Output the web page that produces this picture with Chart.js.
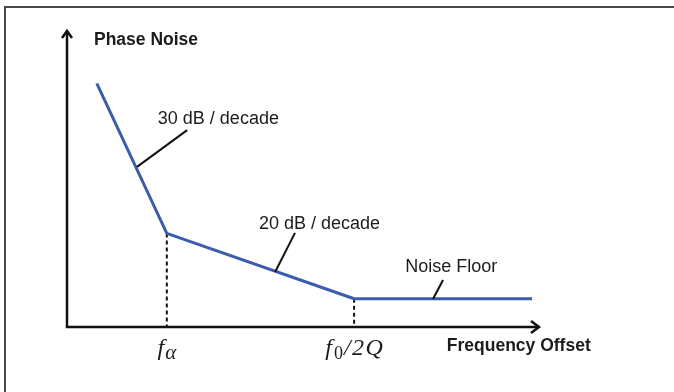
<!DOCTYPE html>
<html><head><meta charset="utf-8">
<script src="https://cdn.jsdelivr.net/npm/chart.js@4"></script>
<style>html,body{margin:0;padding:0;background:#fff;}canvas{display:block}</style>
</head><body>
<canvas id="c" width="674" height="392"></canvas>
<script>
// ---- data (schematic, log-frequency units) ----
const freqOffset  = [0.63, 2.11, 6.07, 9.83];
const phaseNoise  = [8.2, 3.15, 0.95, 0.95];
const tickValues  = [2.11, 6.07];
const tickLabels  = [['f', 'α', ''], ['f', '0', '/2Q']];
const slopeLabels = ['30 dB / decade', '20 dB / decade', 'Noise Floor'];
const axisTitles  = ['Phase Noise', 'Frequency Offset'];
// leader line anchors on the curve (x,y) and label attachment (x,y)
const leaderFrom  = [[1.48, 5.39], [4.40, 1.85], [7.74, 0.95]];
const leaderTo    = [[2.54, 6.63], [4.82, 3.17], [7.95, 1.58]];
const labelPos    = [[1.92, 6.84], [4.06, 3.30], [7.15, 1.85]];
const titlePos    = [[0.57, 9.48], [8.03, -0.81]];

const curve = freqOffset.map((x, i) => ({x, y: phaseNoise[i]}));
const dropLines = tickValues.map(v => {
  const i = freqOffset.indexOf(v);
  return [{x: v, y: phaseNoise[i]}, {x: v, y: 0}];
});

const frame = {
  id: 'frame',
  beforeDraw(chart) {
    const ctx = chart.ctx;
    ctx.save();
    ctx.fillStyle = '#fff';
    ctx.fillRect(0, 0, chart.width, chart.height);
    ctx.strokeStyle = '#4a4a4a';
    ctx.lineWidth = 2;
    ctx.beginPath();
    ctx.moveTo(5, chart.height);
    ctx.lineTo(5, 7);
    ctx.lineTo(chart.width, 7);
    ctx.stroke();
    ctx.restore();
  }
};

const axesArrows = {
  id: 'axesArrows',
  afterDatasetsDraw(chart) {
    const ctx = chart.ctx, a = chart.chartArea;
    ctx.save();
    ctx.strokeStyle = '#111';
    ctx.lineWidth = 2.5;
    ctx.lineCap = 'butt';
    ctx.beginPath();
    ctx.moveTo(a.left, a.top + 1);
    ctx.lineTo(a.left, a.bottom);
    ctx.lineTo(a.right - 1, a.bottom);
    ctx.stroke();
    ctx.lineJoin = 'miter';
    ctx.beginPath();
    ctx.moveTo(a.left - 5, a.top + 8);
    ctx.lineTo(a.left, a.top + 1);
    ctx.lineTo(a.left + 5, a.top + 8);
    ctx.moveTo(a.right - 9, a.bottom - 6);
    ctx.lineTo(a.right - 1, a.bottom);
    ctx.lineTo(a.right - 9, a.bottom + 6);
    ctx.stroke();
    ctx.restore();
  }
};

const annotate = {
  id: 'annotate',
  afterDraw(chart) {
    const ctx = chart.ctx, xs = chart.scales.x, ys = chart.scales.y;
    const px = v => xs.getPixelForValue(v), py = v => ys.getPixelForValue(v);
    ctx.save();
    // leader lines
    ctx.strokeStyle = '#111';
    ctx.lineWidth = 2;
    leaderFrom.forEach((f, i) => {
      ctx.beginPath();
      ctx.moveTo(px(f[0]), py(f[1]));
      ctx.lineTo(px(leaderTo[i][0]), py(leaderTo[i][1]));
      ctx.stroke();
    });
    // slope labels
    ctx.fillStyle = '#1c1c1c';
    ctx.textBaseline = 'alphabetic';
    ctx.textAlign = 'left';
    ctx.font = '18px "Liberation Sans", Arial, sans-serif';
    slopeLabels.forEach((t, i) => ctx.fillText(t, px(labelPos[i][0]), py(labelPos[i][1])));
    // axis titles
    ctx.font = 'bold 17.5px "Liberation Sans", Arial, sans-serif';
    axisTitles.forEach((t, i) => ctx.fillText(t, px(titlePos[i][0]), py(titlePos[i][1])));
    // tick labels (italic math)
    const base = ys.getPixelForValue(0) + 28;
    tickValues.forEach((v, i) => {
      const [main, sub, rest] = tickLabels[i];
      const big = 'italic 24px "Liberation Serif", "Times New Roman", serif';
      const small = (i === 0 ? 'italic 21px' : '18px') + ' "Liberation Serif", "Times New Roman", serif';
      const gap = i === 0 ? 1 : 2;
      ctx.font = big; const w1 = ctx.measureText(main).width;
      ctx.font = small; const w2 = ctx.measureText(sub).width;
      ctx.font = big; const w3 = rest ? ctx.measureText(rest).width + 4 : 0;
      const total = w1 + gap + w2 + w3;
      let x = px(v) - total / 2;
      ctx.font = big; ctx.fillText(main, x, base);
      x += w1 + gap;
      ctx.font = small; ctx.fillText(sub, x, base + 4);
      x += w2 + 1;
      if (rest) {
        ctx.font = big;
        let xx = x;
        for (const ch of rest) {
          ctx.fillText(ch, xx, base);
          xx += ctx.measureText(ch).width + 1.5;
        }
      }
    });
    ctx.restore();
  }
};

new Chart(document.getElementById('c'), {
  type: 'line',
  data: {
    datasets: [
      {data: curve, borderColor: '#3b5dab', borderWidth: 3, pointRadius: 0, tension: 0, borderJoinStyle: 'round', order: 0},
      ...dropLines.map(d => ({data: d, borderColor: '#111', borderWidth: 2, borderDash: [4, 3], pointRadius: 0, order: 1}))
    ]
  },
  options: {
    responsive: false,
    animation: false,
    events: [],
    layout: {padding: {left: 67, right: 134, top: 30, bottom: 65}},
    plugins: {legend: {display: false}, tooltip: {enabled: false}},
    scales: {
      x: {type: 'linear', min: 0, max: 10, display: false},
      y: {type: 'linear', min: 0, max: 10, display: false}
    }
  },
  plugins: [frame, axesArrows, annotate]
});
</script>
</body></html>
